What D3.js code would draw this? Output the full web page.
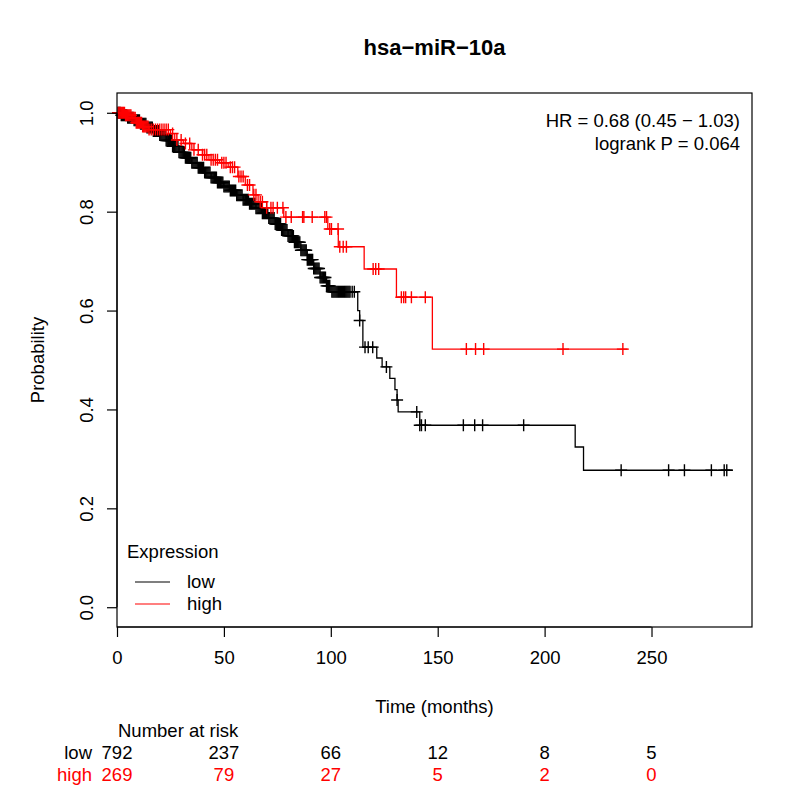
<!DOCTYPE html>
<html>
<head>
<meta charset="utf-8">
<script src="https://cdn.jsdelivr.net/npm/d3@7"></script>
<style>
  body { margin: 0; background: #fff; }
  text { font-family: "Liberation Sans", Arial, Helvetica, sans-serif; }
</style>
</head>
<body>
<div id="chart"></div>
<script>
const w = 800;
const h = 800;

// plot box
const boxLeft = 117, boxRight = 752, boxTop = 93, boxBottom = 627;

// step curves: time of each drop and survival after it
const lowTimes = [0, 2, 5, 8, 11, 14, 17, 20, 23, 26, 29, 32, 35, 38, 41, 44, 47, 50, 53, 56, 59, 62, 65, 68, 71, 74, 77, 80, 83, 86, 89, 92, 95, 98, 100, 112.6, 113.5, 115, 121.5, 124, 127.6, 130, 131, 131.5, 141.6, 214.3, 218.2];
const lowSurv  = [1, 0.995, 0.99, 0.985, 0.978, 0.97, 0.963, 0.955, 0.944, 0.932, 0.92, 0.909, 0.899, 0.889, 0.879, 0.869, 0.859, 0.851, 0.843, 0.833, 0.824, 0.816, 0.807, 0.797, 0.787, 0.775, 0.763, 0.751, 0.738, 0.722, 0.703, 0.685, 0.667, 0.65, 0.638, 0.6, 0.58, 0.526, 0.504, 0.486, 0.463, 0.44, 0.419, 0.395, 0.368, 0.324, 0.277];
const lowEnd = 288;

const highTimes = [0, 4, 7, 9, 12, 15, 25, 27, 31, 35, 40, 43, 48, 52, 56.5, 60, 63.6, 66, 70, 78, 98.6, 103.5, 115.6, 130.7, 147.5];
const highSurv  = [1, 0.995, 0.99, 0.98, 0.972, 0.966, 0.958, 0.945, 0.938, 0.925, 0.915, 0.905, 0.899, 0.89, 0.871, 0.854, 0.834, 0.82, 0.808, 0.789, 0.765, 0.729, 0.684, 0.627, 0.522];
const highEnd = 238.8;

// censored times
const lowCensor = [0.5, 1, 1.5, 2, 2.5, 3, 3.5, 4, 4.5, 5, 5.5, 6, 6.5, 7, 7.5, 8, 8.5, 9, 9.5, 10, 10.5, 11, 11.5, 12, 12.5, 13, 13.5, 14, 14.5, 15, 15.5, 16, 16.5, 17, 17.5, 18, 18.5, 19, 19.5, 20, 20.5, 21, 21.5, 22, 22.5, 23, 23.5, 24, 24.5, 25, 25.5, 26, 26.5, 27, 27.5, 28, 28.5, 29, 29.5, 30, 30.5, 31, 31.5, 32, 32.5, 33, 33.5, 34, 34.5, 35, 35.5, 36, 36.5, 37, 37.5, 38, 38.5, 39, 39.5, 40, 40.5, 41, 41.5, 42, 42.5, 43, 43.5, 44, 44.5, 45, 45.5, 46, 46.5, 47, 47.5, 48, 48.5, 49, 49.5, 50, 50.5, 51, 51.5, 52, 52.5, 53, 53.5, 54, 54.5, 55, 55.5, 56, 56.5, 57, 57.5, 58, 58.5, 59, 59.5, 60, 60.5, 61, 61.5, 62, 62.5, 63, 63.5, 64, 64.5, 65, 65.5, 66, 66.5, 67, 67.5, 68, 68.5, 69, 69.5, 70, 70.5, 71, 71.5, 72, 72.5, 73, 73.5, 74, 74.5, 75, 75.5, 76, 76.5, 77, 77.5, 78, 78.5, 79, 79.5, 80, 80.5, 81, 81.5, 82, 82.5, 83, 83.5, 84, 84.5, 85, 85.5, 86, 86.5, 87, 87.5, 88, 88.5, 89, 89.5, 90, 90.5, 91, 91.5, 92, 92.5, 93, 93.5, 94, 94.5, 95, 95.5, 96, 96.5, 97, 97.5, 98, 98.5, 99, 99.5, 100.5, 101, 101.5, 102, 102.5, 103, 103.5, 104, 104.5, 105, 105.5, 106, 106.5, 107, 107.5, 108, 108.5, 109, 110, 111, 113.5, 116, 117.5, 119.6, 126, 131, 140.2, 141.6, 142.4, 144.2, 162, 167.3, 171, 190.2, 235.8, 258, 265.4, 278, 284, 285.2];
const highCensor = [0.5, 1, 1.5, 2, 2.5, 3, 3.5, 4, 4.5, 5, 5.5, 6, 6.5, 7, 7.5, 8, 8.5, 9, 9.5, 10, 10.5, 11, 11.5, 12, 12.5, 13, 13.5, 14, 14.5, 15, 16, 17, 18, 19, 20, 21, 22, 23, 24, 26, 28, 30, 32, 34, 36, 38, 40, 41, 42, 44, 45, 46, 47, 49, 50, 51, 53, 54, 55, 57, 58, 59, 61, 62, 64, 65, 67, 68, 70, 72, 73, 75, 77.6, 79, 81.5, 86.8, 87.4, 91.3, 97.2, 98, 99.5, 100.3, 103.4, 104.2, 105.8, 107.3, 119.8, 121, 122.4, 133, 134.1, 135, 137.7, 144.2, 163.4, 167.7, 171.5, 208.6, 236.6];

const xTicks = [0, 50, 100, 150, 200, 250];
const yTicks = [0, 0.2, 0.4, 0.6, 0.8, 1.0];

const riskTimes = [0, 50, 100, 150, 200, 250];
const riskLow = [792, 237, 66, 12, 8, 5];
const riskHigh = [269, 79, 27, 5, 2, 0];

const xScale = d3.scaleLinear().domain([0, 297]).range([boxLeft, boxRight]);
const yScale = d3.scaleLinear().domain([-0.04, 1.04]).range([boxBottom, boxTop]);

const svg = d3.select("#chart")
  .append("svg")
  .attr("width", w)
  .attr("height", h)
  .style("font-size", "18.5px");

const survAt = function(times, surv, t) {
  let s = surv[0];
  for (let i = 0; i < times.length; i++) {
    if (times[i] <= t) s = surv[i];
  }
  return s;
};

const line = d3.line()
  .x(d => xScale(d[0]))
  .y(d => yScale(d[1]))
  .curve(d3.curveStepAfter);

const drawCurve = function(times, surv, end, censor, color) {
  const pts = times.map((t, i) => [t, surv[i]]);
  pts.push([end, surv[surv.length - 1]]);
  svg.append("path")
    .datum(pts)
    .attr("fill", "none")
    .attr("stroke", color)
    .attr("stroke-width", 1.3)
    .attr("d", line);

  const marks = svg.append("g");
  censor.forEach(t => {
    const cx = xScale(t), cy = yScale(survAt(times, surv, t));
    marks.append("path")
      .attr("d", `M${cx - 6},${cy}H${cx + 6}M${cx},${cy - 6}V${cy + 6}`)
      .attr("stroke", color)
      .attr("stroke-width", 1.4);
  });
};

drawCurve(lowTimes, lowSurv, lowEnd, lowCensor, "#000000");
drawCurve(highTimes, highSurv, highEnd, highCensor, "#ff0000");

// box
svg.append("rect")
  .attr("x", boxLeft)
  .attr("y", boxTop)
  .attr("width", boxRight - boxLeft)
  .attr("height", boxBottom - boxTop)
  .attr("fill", "none")
  .attr("stroke", "#000")
  .attr("stroke-width", 1.2);

// axes
const xAxis = d3.axisBottom(xScale).tickValues(xTicks).tickSize(10).tickPadding(14).tickFormat(d3.format("d"));
const yAxis = d3.axisLeft(yScale).tickValues(yTicks).tickSize(10).tickFormat(d3.format(".1f"));

const gx = svg.append("g")
  .attr("transform", "translate(0," + boxBottom + ")")
  .call(xAxis);
gx.select(".domain").attr("d", `M${xScale(0)},0H${xScale(250)}`).attr("stroke-width", 1.2);
gx.selectAll("line").attr("stroke-width", 1.2);
gx.selectAll("text").attr("font-size", "18.5px").attr("font-family", "Liberation Sans, Arial").attr("fill", "#000");

const gy = svg.append("g")
  .attr("transform", "translate(" + boxLeft + ",0)")
  .call(yAxis);
gy.select(".domain").attr("d", `M0,${yScale(0)}V${yScale(1)}`).attr("stroke-width", 1.2);
gy.selectAll("line").attr("stroke-width", 1.2);
gy.selectAll("text")
  .attr("font-size", "18.5px")
  .attr("font-family", "Liberation Sans, Arial")
  .attr("fill", "#000")
  .attr("x", null)
  .attr("dy", null)
  .attr("text-anchor", "middle")
  .attr("transform", "translate(-24,0) rotate(-90)")
  .attr("y", 0);

// title and labels
svg.append("text")
  .attr("x", (boxLeft + boxRight) / 2)
  .attr("y", 55)
  .attr("text-anchor", "middle")
  .attr("font-weight", "bold")
  .style("font-size", "22px")
  .text("hsa\u2212miR\u221210a");

svg.append("text")
  .attr("x", (boxLeft + boxRight) / 2)
  .attr("y", 713)
  .attr("text-anchor", "middle")
  .text("Time (months)");

svg.append("text")
  .attr("transform", "translate(44," + (boxTop + boxBottom) / 2 + ") rotate(-90)")
  .attr("text-anchor", "middle")
  .text("Probability");

svg.append("text")
  .attr("x", 740)
  .attr("y", 127)
  .attr("text-anchor", "end")
  .text("HR = 0.68 (0.45 \u2212 1.03)");
svg.append("text")
  .attr("x", 740)
  .attr("y", 150)
  .attr("text-anchor", "end")
  .text("logrank P = 0.064");

// legend
svg.append("text").attr("x", 127).attr("y", 558).text("Expression");
[["low", "#000000", 582], ["high", "#ff0000", 604]].forEach(d => {
  svg.append("line")
    .attr("x1", 135).attr("x2", 170)
    .attr("y1", d[2]).attr("y2", d[2])
    .attr("stroke", d[1]).attr("stroke-width", 1.2);
  svg.append("text").attr("x", 187).attr("y", d[2] + 6).text(d[0]);
});

// number at risk
svg.append("text").attr("x", 118).attr("y", 737).text("Number at risk");
svg.append("text").attr("x", 92).attr("y", 759).attr("text-anchor", "end").text("low");
svg.append("text").attr("x", 92).attr("y", 781).attr("text-anchor", "end").attr("fill", "#ff0000").text("high");
svg.selectAll(".riskLow")
  .data(riskLow)
  .enter()
  .append("text")
  .attr("class", "riskLow")
  .attr("x", (d, i) => xScale(riskTimes[i]))
  .attr("y", 759)
  .attr("text-anchor", "middle")
  .text(d => d);
svg.selectAll(".riskHigh")
  .data(riskHigh)
  .enter()
  .append("text")
  .attr("class", "riskHigh")
  .attr("x", (d, i) => xScale(riskTimes[i]))
  .attr("y", 781)
  .attr("text-anchor", "middle")
  .attr("fill", "#ff0000")
  .text(d => d);
</script>
</body>
</html>
